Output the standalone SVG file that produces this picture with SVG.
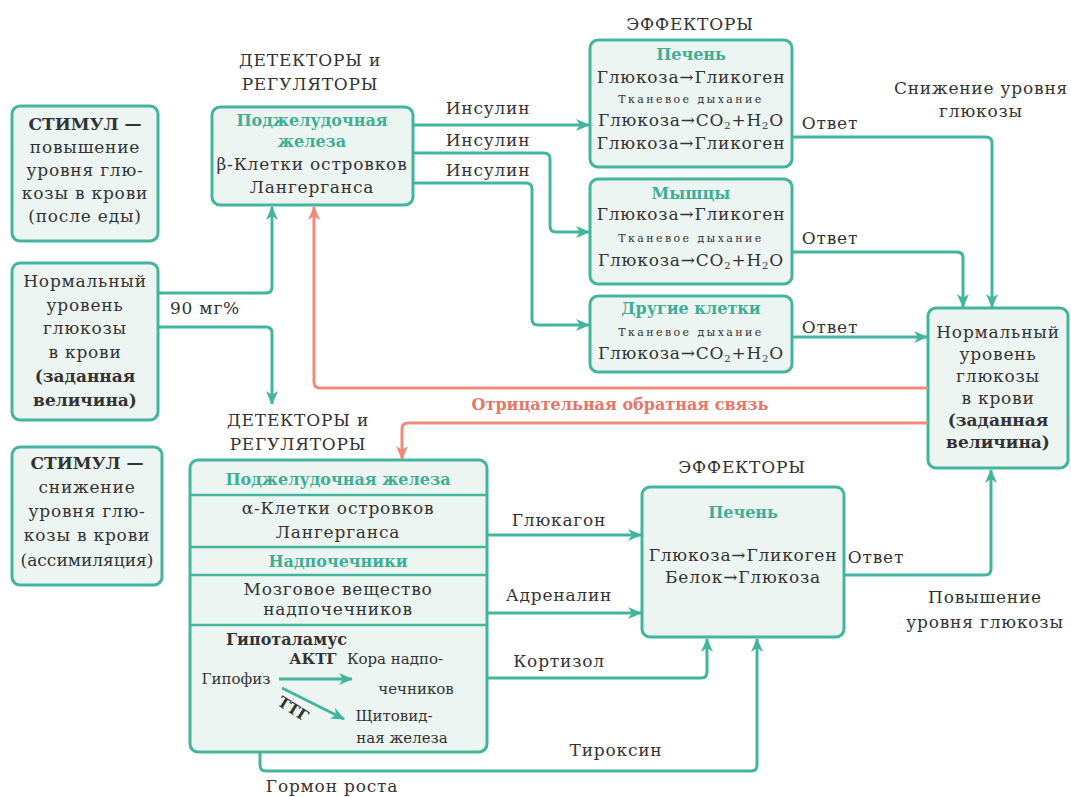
<svg xmlns="http://www.w3.org/2000/svg" width="1071" height="797" viewBox="0 0 1071 797">
<defs>
<style>
.bx{fill:#edf5f2;stroke:#44b59d;stroke-width:3}
.dv{stroke:#44b59d;stroke-width:2.5}
.c{fill:none;stroke:#44b59d;stroke-width:3}
.cr{fill:none;stroke:#ee8b79;stroke-width:3}
text{font-family:"DejaVu Serif","Liberation Serif",serif;font-size:17px;letter-spacing:0.8px;fill:#333;text-anchor:middle;dominant-baseline:central}
.b{font-weight:bold;letter-spacing:0}
.g{fill:#3fae95;font-weight:bold;font-size:16px;letter-spacing:0}
.s{font-size:11px;letter-spacing:2.4px}
.r{fill:#e47765;font-weight:bold;font-size:16px;letter-spacing:0}
.sub{font-size:10px}
.h{font-size:15px;letter-spacing:0}
.n{letter-spacing:0}
</style>
<marker id="ah" viewBox="0 0 14 12" refX="13" refY="6" markerWidth="14" markerHeight="12" orient="auto" markerUnits="userSpaceOnUse"><path d="M0,0 L14,6 L0,12 L4,6 z" fill="#44b59d"/></marker>
<marker id="ar" viewBox="0 0 14 12" refX="13" refY="6" markerWidth="14" markerHeight="12" orient="auto" markerUnits="userSpaceOnUse"><path d="M0,0 L14,6 L0,12 L4,6 z" fill="#ee8b79"/></marker>
</defs>
<rect width="1071" height="797" fill="#fff"/>

<g id="stimulus-up">
<rect class="bx" x="12" y="106" width="146" height="135" rx="8"/>
<text class="b" x="85" y="124">СТИМУЛ —</text>
<text x="85" y="147">повышение</text>
<text x="85" y="170">уровня глю-</text>
<text x="85" y="193">козы в крови</text>
<text x="85" y="216">(после еды)</text>
</g>

<g id="normal-left">
<rect class="bx" x="12" y="263" width="146" height="157" rx="8"/>
<text x="85" y="281">Нормальный</text>
<text x="85" y="305">уровень</text>
<text x="85" y="328">глюкозы</text>
<text x="85" y="352">в крови</text>
<text class="b" x="85" y="376">(заданная</text>
<text class="b" x="85" y="400">величина)</text>
</g>

<g id="stimulus-down">
<rect class="bx" x="12" y="447" width="150" height="138" rx="8"/>
<text class="b" x="87" y="463">СТИМУЛ —</text>
<text x="87" y="487">снижение</text>
<text x="87" y="511">уровня глю-</text>
<text x="87" y="535">козы в крови</text>
<text class="n" x="87" y="560">(ассимиляция)</text>
</g>

<g id="detector-up">
<rect class="bx" x="212" y="107" width="201" height="98" rx="8"/>
<text class="g" x="312" y="120">Поджелудочная</text>
<text class="g" x="312" y="141">железа</text>
<text x="312" y="164">β-Клетки островков</text>
<text x="312" y="187">Лангерганса</text>
</g>

<g id="liver-up">
<rect class="bx" x="590" y="40" width="202" height="127" rx="8"/>
<text class="g" x="691" y="54">Печень</text>
<text x="691" y="77">Глюкоза→Гликоген</text>
<text class="s" x="691" y="99">Тканевое дыхание</text>
<text x="691" y="120">Глюкоза→CO<tspan class="sub" baseline-shift="sub">2</tspan>+H<tspan class="sub" baseline-shift="sub">2</tspan>O</text>
<text x="691" y="143">Глюкоза→Гликоген</text>
</g>

<g id="muscles">
<rect class="bx" x="590" y="179" width="202" height="105" rx="8"/>
<text class="g" x="691" y="193">Мышцы</text>
<text x="691" y="214">Глюкоза→Гликоген</text>
<text class="s" x="691" y="238">Тканевое дыхание</text>
<text x="691" y="260">Глюкоза→CO<tspan class="sub" baseline-shift="sub">2</tspan>+H<tspan class="sub" baseline-shift="sub">2</tspan>O</text>
</g>

<g id="other-cells">
<rect class="bx" x="590" y="296" width="202" height="76" rx="8"/>
<text class="g" x="691" y="308">Другие клетки</text>
<text class="s" x="691" y="332">Тканевое дыхание</text>
<text x="691" y="353">Глюкоза→CO<tspan class="sub" baseline-shift="sub">2</tspan>+H<tspan class="sub" baseline-shift="sub">2</tspan>O</text>
</g>

<g id="normal-right">
<rect class="bx" x="928" y="308" width="140" height="160" rx="8"/>
<text x="998" y="332">Нормальный</text>
<text x="998" y="354">уровень</text>
<text x="998" y="376">глюкозы</text>
<text x="998" y="398">в крови</text>
<text class="b" x="998" y="420">(заданная</text>
<text class="b" x="998" y="442">величина)</text>
</g>

<g id="detector-down">
<rect class="bx" x="190" y="460" width="297" height="292" rx="8"/>
<line class="dv" x1="190" y1="495" x2="487" y2="495"/>
<line class="dv" x1="190" y1="547" x2="487" y2="547"/>
<line class="dv" x1="190" y1="575" x2="487" y2="575"/>
<line class="dv" x1="190" y1="625" x2="487" y2="625"/>
<text class="g" x="338" y="479">Поджелудочная железа</text>
<text x="338" y="508">α-Клетки островков</text>
<text x="338" y="532">Лангерганса</text>
<text class="g" x="338" y="561">Надпочечники</text>
<text x="338" y="589">Мозговое вещество</text>
<text x="338" y="609">надпочечников</text>
<text class="b h" x="226" y="639" style="text-anchor:start;font-size:16px">Гипоталамус</text>
<text class="b h" x="313" y="659">АКТГ</text>
<text class="h" x="395" y="659">Кора надпо-</text>
<text class="h" x="236" y="679">Гипофиз</text>
<text class="h" x="416" y="689">чечников</text>
<text class="b h" x="293" y="709" transform="rotate(32 293 709)">ТТГ</text>
<text class="h" x="394" y="716">Щитовид-</text>
<text class="h" x="402" y="738">ная железа</text>
</g>

<g id="liver-down">
<rect class="bx" x="642" y="487" width="202" height="150" rx="8"/>
<text class="g" x="743" y="512">Печень</text>
<text x="743" y="555">Глюкоза→Гликоген</text>
<text x="743" y="577">Белок→Глюкоза</text>
</g>

<g id="connectors">
<path class="c" d="M158,293 H266 Q272,293 272,287 V207" marker-end="url(#ah)"/>
<path class="c" d="M158,327 H266 Q272,327 272,333 V404" marker-end="url(#ah)"/>
<path class="c" d="M413,125 H589" marker-end="url(#ah)"/>
<path class="c" d="M413,153 H544 Q550,153 550,159 V226 Q550,232 556,232 H589" marker-end="url(#ah)"/>
<path class="c" d="M413,183 H526 Q532,183 532,189 V319 Q532,325 538,325 H589" marker-end="url(#ah)"/>
<path class="c" d="M792,137 H986 Q992,137 992,143 V307" marker-end="url(#ah)"/>
<path class="c" d="M792,252 H957 Q963,252 963,258 V307" marker-end="url(#ah)"/>
<path class="c" d="M792,337 H927" marker-end="url(#ah)"/>
<path class="cr" d="M928,388 H320 Q314,388 314,382 V207" marker-end="url(#ar)"/>
<path class="cr" d="M928,423 H408 Q402,423 402,429 V459" marker-end="url(#ar)"/>
<path class="c" d="M487,535 H641" marker-end="url(#ah)"/>
<path class="c" d="M487,613 H641" marker-end="url(#ah)"/>
<path class="c" d="M487,678 H701 Q707,678 707,672 V639" marker-end="url(#ah)"/>
<path class="c" d="M260,752 V765 Q260,771 266,771 H751 Q757,771 757,765 V639" marker-end="url(#ah)"/>
<path class="c" d="M844,575 H985 Q991,575 991,569 V470" marker-end="url(#ah)"/>
<path class="c" d="M279,679 H352" marker-end="url(#ah)"/>
<path class="c" d="M282,688 L344,719" marker-end="url(#ah)"/>
</g>

<g id="labels">
<text x="488" y="108">Инсулин</text>
<text x="488" y="140">Инсулин</text>
<text x="488" y="170">Инсулин</text>
<text x="830" y="123">Ответ</text>
<text x="830" y="238">Ответ</text>
<text x="830" y="327">Ответ</text>
<text x="981" y="88">Снижение уровня</text>
<text x="981" y="111">глюкозы</text>
<text x="205" y="308">90 мг%</text>
<text class="r" x="620" y="404">Отрицательная обратная связь</text>
<text x="559" y="520">Глюкагон</text>
<text x="559" y="595">Адреналин</text>
<text x="559" y="661">Кортизол</text>
<text x="616" y="750">Тироксин</text>
<text x="332" y="786">Гормон роста</text>
<text x="876" y="557">Ответ</text>
<text x="985" y="597">Повышение</text>
<text x="985" y="622">уровня глюкозы</text>
<text x="310" y="60">ДЕТЕКТОРЫ и</text>
<text x="310" y="84">РЕГУЛЯТОРЫ</text>
<text x="690" y="24">ЭФФЕКТОРЫ</text>
<text x="298" y="420">ДЕТЕКТОРЫ и</text>
<text x="298" y="444">РЕГУЛЯТОРЫ</text>
<text x="742" y="467">ЭФФЕКТОРЫ</text>
</g>
</svg>
